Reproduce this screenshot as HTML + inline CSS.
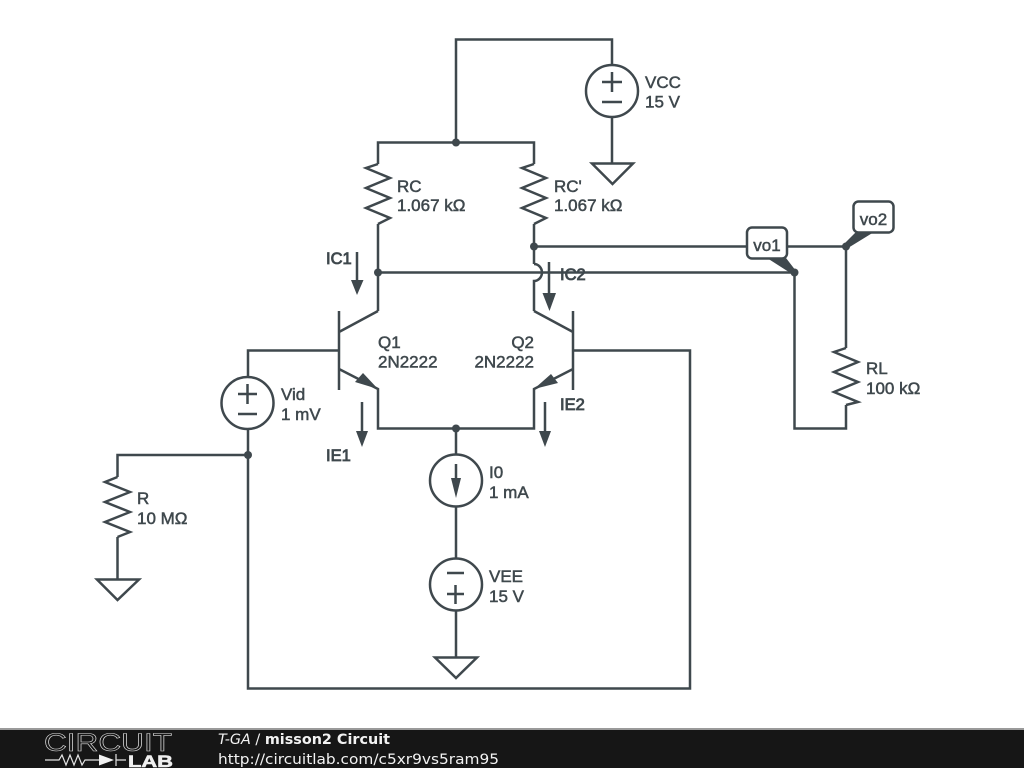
<!DOCTYPE html>
<html><head><meta charset="utf-8"><title>misson2 Circuit</title>
<style>html,body{margin:0;padding:0;background:#fff;width:1024px;height:768px;overflow:hidden}svg{display:block}
.w{fill:none;stroke:#3f484d;stroke-width:2.5;stroke-linejoin:miter}
.a{fill:#3f484d;stroke:none}
text.l{font-family:"Liberation Sans",Arial,sans-serif;font-size:17px;fill:#3f484d;stroke:#3f484d;stroke-width:.5}
text.b{font-size:16.5px;stroke-width:.85}
</style></head><body>
<svg width="1024" height="768" viewBox="0 0 1024 768" xmlns="http://www.w3.org/2000/svg">
<rect width="1024" height="768" fill="#fff"/>
<g class="w">
<!-- supply -->
<path d="M456 142.500V39.500H612V65M612 117V163.500"/>
<circle cx="612" cy="91" r="26"/>
<path d="M602 82H622M612 72V92M602 102H622"/>
<path d="M592 163.500H633L612.500 184Z"/>
<path d="M378 224V311M378 164V142.500H534V164M534 224V264"/>
<path d="M378 164L366 168L390 178L366 188L390 198L366 208L390 218L378 224"/>
<path d="M534 164L522 168L546 178L522 188L546 198L522 208L546 218L534 224"/>
<!-- jump -->
<path d="M534 264A7.500 8 0 0 1 534 281V311"/>
<path d="M378 272.500H794.500V428.500H846V405M846 348V246.500H534"/>
<path d="M846 348L834 352L858 362L834 372L858 382L834 392L858 402L846 405"/>
<!-- transistors -->
<path d="M339 311V390M339 332L378 311M339 369L378 389V428.500H534V389L573 369M573 311V390M573 332L534 311"/>
<path d="M248 376V350.500H339M573 350.500H690V688.500H248V429"/>
<circle cx="247.500" cy="403" r="26"/>
<path d="M238 394H257M247.500 384V404M238 414H257"/>
<path d="M248 455H117.500V477M117.500 537V579"/>
<path d="M117.500 477L105 482L130 492L105 502L130 512L105 522L130 532L117.500 537"/>
<path d="M97 579.500H139L117.500 600Z"/>
<path d="M456 428V454M456 507V558M456 611V657"/>
<circle cx="456" cy="480.500" r="26"/>
<circle cx="456" cy="584.500" r="26"/>
<path d="M447 573H464M447 594H464M455.500 585V604"/>
<path d="M435 657.500H477L456 678Z"/>
<path d="M456 464V482M357 252V282M549 262V295M362 402V433M545 402V433"/>
</g>
<!-- arrow heads -->
<g class="a">
<path d="M378 389L363 373L355 382Z"/>
<path d="M534 389L551 374L558 383Z"/>
<path d="M351 280H363.500L357 295Z"/>
<path d="M542.500 293H556L549.500 311Z"/>
<path d="M356 431H368L362 447Z"/>
<path d="M539 431H551L545 447Z"/>
<path d="M451 478H461L456 498Z"/>
<circle cx="456" cy="142.500" r="4"/>
<circle cx="378" cy="272.500" r="4"/>
<circle cx="534" cy="246.500" r="4"/>
<circle cx="456" cy="428.500" r="4"/>
<circle cx="248" cy="455" r="4"/>
<circle cx="794.500" cy="272.500" r="4"/>
<circle cx="846" cy="246.500" r="4"/>
<path d="M767 258H786L796 271L792 274Z"/>
<path d="M856 232H874L848 248L844 244Z"/>
</g>
<rect x="747" y="227.500" width="40" height="31" rx="5" fill="#fff" stroke="#3f484d" stroke-width="2.500"/>
<rect x="853.500" y="201.500" width="40" height="31" rx="5" fill="#fff" stroke="#3f484d" stroke-width="2.500"/>
<!-- labels -->
<text class="l" x="645" y="88">VCC</text><text class="l" x="645" y="107.500">15 V</text>
<text class="l" x="397" y="192">RC</text><text class="l" x="397" y="211">1.067 kΩ</text>
<text class="l" x="554" y="192">RC'</text><text class="l" x="554" y="211">1.067 kΩ</text>
<text class="l" x="767" y="251" text-anchor="middle">vo1</text>
<text class="l" x="873.500" y="225" text-anchor="middle">vo2</text>
<text class="l b" x="326" y="264">IC1</text>
<text class="l b" x="560" y="280">IC2</text>
<text class="l" x="378" y="348">Q1</text><text class="l" x="378" y="367.500">2N2222</text>
<text class="l" x="534" y="348" text-anchor="end">Q2</text><text class="l" x="534" y="367.500" text-anchor="end">2N2222</text>
<text class="l" x="281" y="400">Vid</text><text class="l" x="281" y="420">1 mV</text>
<text class="l b" x="560" y="410">IE2</text>
<text class="l b" x="326" y="461">IE1</text>
<text class="l" x="866" y="374">RL</text><text class="l" x="866" y="394">100 kΩ</text>
<text class="l" x="489" y="478">I0</text><text class="l" x="489" y="498">1 mA</text>
<text class="l" x="489" y="582">VEE</text><text class="l" x="489" y="602">15 V</text>
<text class="l" x="137" y="504">R</text><text class="l" x="137" y="524">10 MΩ</text>
<!-- footer -->
<rect x="0" y="728" width="1024" height="2" fill="#9a9a9a"/>
<rect x="0" y="730" width="1024" height="38" fill="#161616"/>
<text x="44" y="751" font-family="Liberation Sans,sans-serif" font-size="25" fill="none" stroke="#dcdcdc" stroke-width=".6" textLength="128" lengthAdjust="spacingAndGlyphs">CIRCUIT</text>
<path d="M45 760H59L62 755L66 765L70 755L74 765L78 755L82 765L85 760H99M116 754V766M116 760H126" fill="none" stroke="#e4e4e4" stroke-width="1.200"/>
<path d="M99 754.500L114 760L99 765.500Z" fill="#f0f0f0"/>
<text x="128" y="767" font-family="Liberation Sans,sans-serif" font-size="17" font-weight="bold" fill="#f0f0f0" stroke="#f0f0f0" stroke-width=".6" textLength="45" lengthAdjust="spacingAndGlyphs">LAB</text>
<text x="218" y="744" font-family="DejaVu Sans,sans-serif" font-size="14" fill="#f2f2f2" textLength="172" lengthAdjust="spacingAndGlyphs"><tspan font-style="oblique">T-GA</tspan> / <tspan font-weight="bold">misson2 Circuit</tspan></text>
<text x="218" y="764" font-family="DejaVu Sans,sans-serif" font-size="14.500" fill="#f2f2f2" textLength="281" lengthAdjust="spacingAndGlyphs">http://circuitlab.com/c5xr9vs5ram95</text>
</svg>
</body></html>
